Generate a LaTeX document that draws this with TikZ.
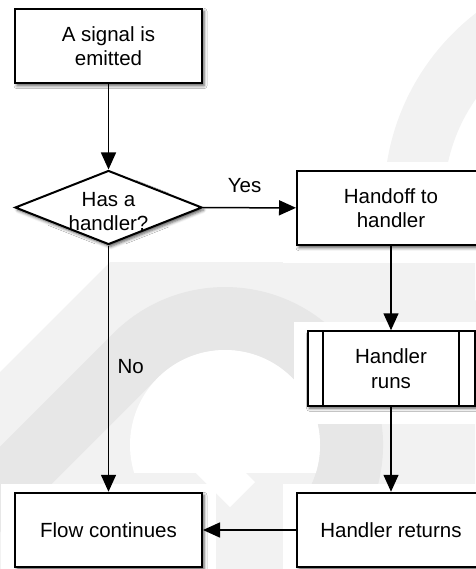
\documentclass[tikz,border=0pt]{standalone}
\usepackage{fontspec}
\setmainfont{Liberation Sans}
\usetikzlibrary{shapes.geometric,arrows.meta,shadows.blur,backgrounds,positioning}
\definecolor{wmlight}{HTML}{F2F2F2}
\definecolor{wmdark}{HTML}{E7E7E7}

\begin{document}
\begin{tikzpicture}[x=1pt,y=-1pt,
    font=\fontsize{20.5}{24.5}\selectfont,
    box/.style={draw, line width=2pt, fill=white, align=center,
        minimum width=187pt, minimum height=74.5pt, inner sep=0pt,
        blur shadow={shadow xshift=2pt, shadow yshift=-2.5pt,
            shadow blur radius=3pt, shadow opacity=65}},
    decision/.style={box, diamond, aspect=2.53, minimum height=74pt},
    subproc/.style={box, minimum width=167pt},
    flow/.style={line width=1.5pt, -{Triangle[length=17pt,width=15pt]}},
    halo/.style={fill=white}]
    \useasboundingbox (0,0) rectangle (475,569);

    % Nodes
    \node[box] (emit) at (108.5,46) {\vphantom{g}A signal is\\emitted};
    \node[decision, label={[align=center, yshift=-4pt]center:Has a\\handler?}] (ask) at (108.5,207.5) {};
    \node[box, minimum width=188pt] (handoff) at (391,208) {Handoff to\\handler};
    \node[subproc] (run) at (391,368.5) {Handler\\runs};
    \node[box, minimum width=188pt] (ret) at (391,530) {Handler returns};
    \node[box] (cont) at (108.5,530) {Flow continues};

    % side bars of the subprocess
    \draw[line width=1.5pt] ([xshift=16.5pt]run.north west) -- ([xshift=16.5pt]run.south west);
    \draw[line width=1.5pt] ([xshift=-16.5pt]run.north east) -- ([xshift=-16.5pt]run.south east);

    % Connectors
    \draw[flow] (emit) -- (ask);
    \draw[flow] (ask) -- node[pos=0.45, above=11pt] {Yes} (handoff);
    \draw[flow] (ask) -- node[pos=0.49, right=5pt] {No} (cont);
    \draw[flow] (handoff) -- (run);
    \draw[flow] (run) -- (ret);
    \draw[flow] (ret) -- (cont);

    % Watermark
    \begin{scope}[on background layer]
        \fill[wmlight] (110,262) -- (475,262) -- (475,569) -- (0,569) -- (0,372) -- cycle;
        \fill[wmlight, even odd rule] (620,200) circle (236) (620,200) circle (176);
        \draw[wmdark, line width=63] (-20,511) -- (135.6,355.6)
            arc[start angle=-135, end angle=25, radius=126.5];
        \begin{scope}
            \clip (0,0) rectangle (475,472);
            \fill[white] (225,445) circle (95);
        \end{scope}
        \fill[white] (150,427) -- (175,402) -- (255,482) -- (230,507) -- cycle;
        \foreach \n in {emit,ask,handoff,run,ret,cont}
            \fill[halo] ([shift={(-13,-8)}]\n.north west) rectangle ([shift={(13,17)}]\n.south east);
    \end{scope}
\end{tikzpicture}
\end{document}
